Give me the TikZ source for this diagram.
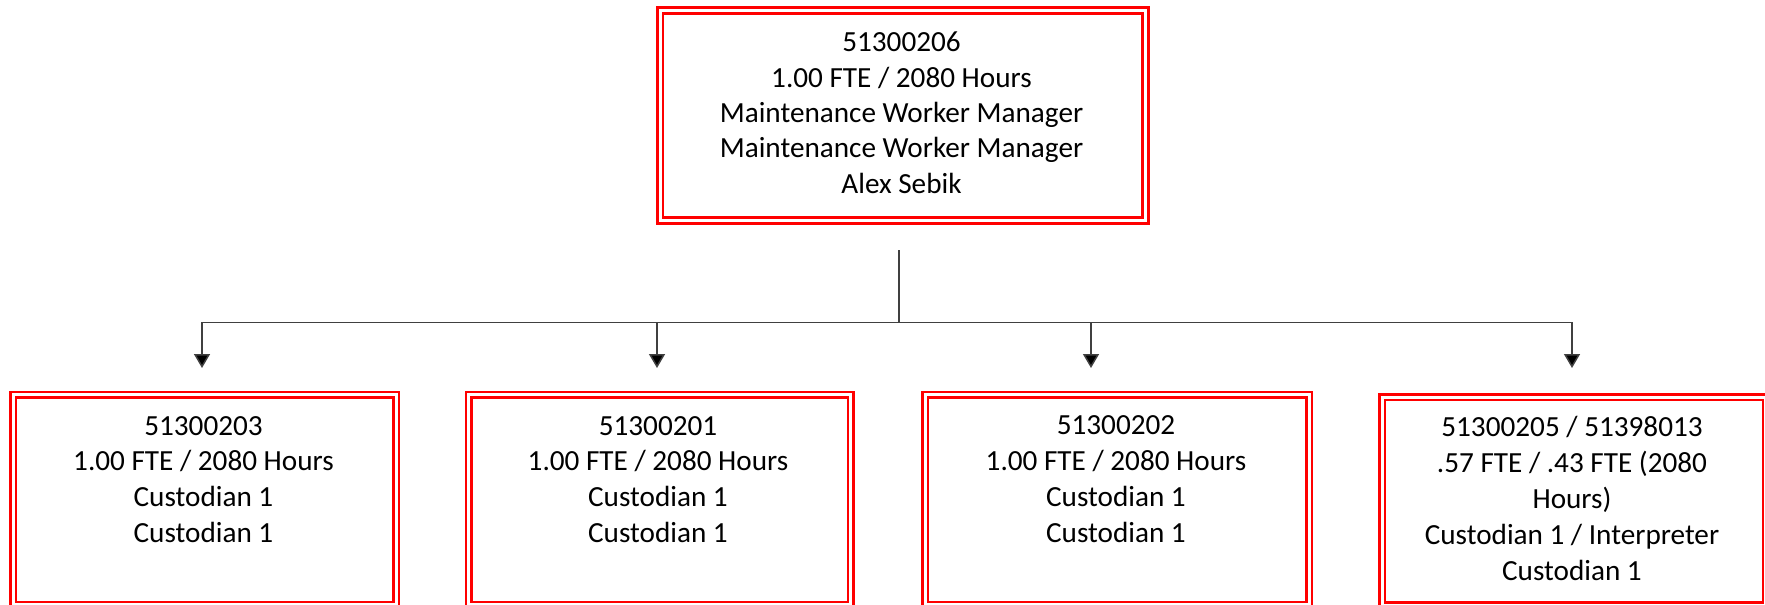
\documentclass[tikz,border=0pt]{standalone}
\usepackage{fontspec}
\setmainfont{Carlito}
\usetikzlibrary{arrows.meta}
\begin{document}
\begin{tikzpicture}[x=1pt,y=-1pt,
  box/.style={draw=red, line width=2.7pt, double=white, double distance=2.8pt,
    rectangle, inner sep=0pt, anchor=north west},
  txt/.style={align=center, inner sep=0pt, anchor=base, text=black},
  conn/.style={draw=black!75, line width=1.5pt},
  arr/.style={conn, -{Triangle[width=16pt,length=14pt,fill=black]}}]
\useasboundingbox (0,0) rectangle (1765,605);
\fill[white] (0,0) rectangle (1765,605);
% boxes
\node[box, minimum width=485.4pt, minimum height=210pt] (top) at (658.8,9.2) {};
\node[box, minimum width=383pt, minimum height=210pt] (b1) at (12,393.5) {};
\node[box, minimum width=382pt, minimum height=210pt] (b2) at (467.5,393.5) {};
\node[box, minimum width=384pt, minimum height=210pt] (b3) at (924,393.5) {};
\node[box, minimum width=383.3pt, minimum height=208pt] (b4) at (1381,396) {};
% texts (base anchor = baseline of last line)
\node[txt, font=\fontsize{29.2}{35.3}\selectfont] (t0) at (901.5,193)
  {51300206\\1.00 FTE / 2080 Hours\\Maintenance Worker Manager\\Maintenance Worker Manager\\Alex Sebik};
\node[txt, font=\fontsize{29.2}{35.9}\selectfont] (t1) at (203.5,542.7)
  {51300203\\1.00 FTE / 2080 Hours\\Custodian 1\\Custodian 1};
\node[txt, font=\fontsize{29.2}{35.9}\selectfont] (t2) at (658,542.7)
  {51300201\\1.00 FTE / 2080 Hours\\Custodian 1\\Custodian 1};
\node[txt, font=\fontsize{29.2}{35.9}\selectfont] (t3) at (1116,542.2)
  {51300202\\1.00 FTE / 2080 Hours\\Custodian 1\\Custodian 1};
\node[txt, font=\fontsize{29.2}{35.9}\selectfont] (t4) at (1572,580.3)
  {51300205 / 51398013\\.57 FTE / .43 FTE (2080\\Hours)\\Custodian 1 / Interpreter\\Custodian 1};
% connectors
\coordinate (s) at (899,250);
\coordinate (j) at (899,322.7);
\coordinate (a1) at (202,368);
\coordinate (a2) at (657,368);
\coordinate (a3) at (1091,368);
\coordinate (a4) at (1572,368);
\draw[conn] (s) -- (j);
\draw[arr] (j) -| (a1);
\draw[arr] (j) -| (a2);
\draw[arr] (j) -| (a3);
\draw[arr] (j) -| (a4);
\end{tikzpicture}
\end{document}
